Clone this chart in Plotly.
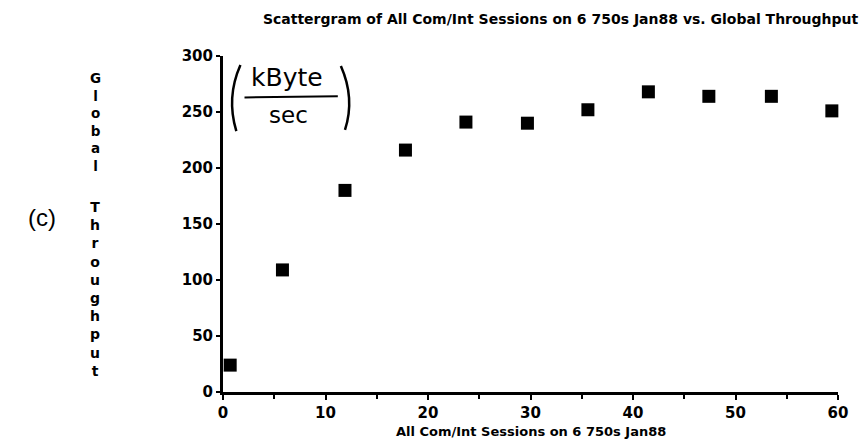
import plotly.graph_objects as go

# Concurrent Com/Int sessions vs. measured global throughput (kByte/sec)
sessions = [0.7, 5.8, 11.9, 17.8, 23.7, 29.7, 35.6, 41.5, 47.4, 53.5, 59.4]
throughput = [24, 109, 180, 216, 241, 240, 252, 268, 264, 264, 251]

x_ticks = [0, 10, 20, 30, 40, 50, 60]
y_ticks = [0, 50, 100, 150, 200, 250, 300]

title_text = "Scattergram of All Com/Int Sessions on 6 750s Jan88 vs. Global Throughput"
x_title = "All Com/Int Sessions on 6 750s Jan88"
y_words = ["Global", "Throughput"]

FONT = "DejaVu Sans"
INK = "black"

fig = go.Figure(
    go.Scatter(
        x=sessions,
        y=throughput,
        mode="markers",
        marker=dict(symbol="square", size=13, color=INK, line=dict(width=0)),
        cliponaxis=False,
        showlegend=False,
    )
)

axis_common = dict(
    showline=True,
    linecolor=INK,
    linewidth=3,
    showgrid=False,
    zeroline=False,
    ticks="outside",
    tickwidth=2,
    tickcolor=INK,
    tickfont=dict(family=FONT, size=15, color=INK, weight="bold"),
)

fig.update_xaxes(
    range=[0, 60],
    tickvals=x_ticks,
    ticktext=[str(v) for v in x_ticks],
    ticklen=5,
    minor=dict(dtick=5, ticks="outside", ticklen=4, tickwidth=2, tickcolor=INK),
    **axis_common,
)
fig.update_yaxes(
    range=[0, 300],
    tickvals=y_ticks,
    ticktext=[str(v) for v in y_ticks],
    ticklen=4,
    **axis_common,
)

fig.update_layout(
    width=860,
    height=445,
    margin=dict(l=223, r=22, t=56, b=53),
    paper_bgcolor="white",
    plot_bgcolor="white",
    title=dict(
        text=title_text,
        x=0.998,
        xanchor="right",
        y=0.958,
        yanchor="middle",
        font=dict(family=FONT, size=14, color=INK, weight="bold"),
    ),
)

annotations = [
    # x-axis title
    dict(
        text=x_title, xref="paper", yref="paper", x=0.5, y=-0.118,
        xanchor="center", yanchor="middle", showarrow=False,
        font=dict(family=FONT, size=13, color=INK, weight="bold"),
    ),
    # y-axis title, stacked letters
    dict(
        text="<br>".join(y_words[0]), xref="paper", yref="paper",
        x=-0.208, y=0.965, xanchor="center", yanchor="top", showarrow=False,
        font=dict(family=FONT, size=13.5, color=INK, weight="bold"),
    ),
    dict(
        text="<br>".join(y_words[1]), xref="paper", yref="paper",
        x=-0.208, y=0.58, xanchor="center", yanchor="top", showarrow=False,
        font=dict(family=FONT, size=14, color=INK, weight="bold"),
    ),
    # panel label
    dict(
        text="(c)", xref="paper", yref="paper", x=-0.294, y=0.52,
        xanchor="center", yanchor="middle", showarrow=False,
        font=dict(family="Liberation Sans", size=24, color=INK),
    ),
    # unit note: kByte / sec
    dict(
        text="kByte", xref="x", yref="y", x=6.2, y=281,
        xanchor="center", yanchor="middle", showarrow=False,
        font=dict(family="DejaVu Sans", size=25, color=INK),
    ),
    dict(
        text="sec", xref="x", yref="y", x=6.4, y=247,
        xanchor="center", yanchor="middle", showarrow=False,
        font=dict(family="DejaVu Sans", size=23, color=INK),
    ),
]
fig.update_layout(annotations=annotations)

# fraction bar and enclosing parentheses of the unit note
shapes = [
    dict(type="line", xref="x", yref="y", x0=2.1, x1=11.2, y0=263, y1=264,
         line=dict(color=INK, width=2)),
    dict(type="path", xref="x", yref="y",
         path="M 1.7,292 Q 0.3,263 1.3,233", line=dict(color=INK, width=2.5)),
    dict(type="path", xref="x", yref="y",
         path="M 11.5,291 Q 12.9,262 11.9,234", line=dict(color=INK, width=2.5)),
]
fig.update_layout(shapes=shapes)

fig.write_html("out.html")
